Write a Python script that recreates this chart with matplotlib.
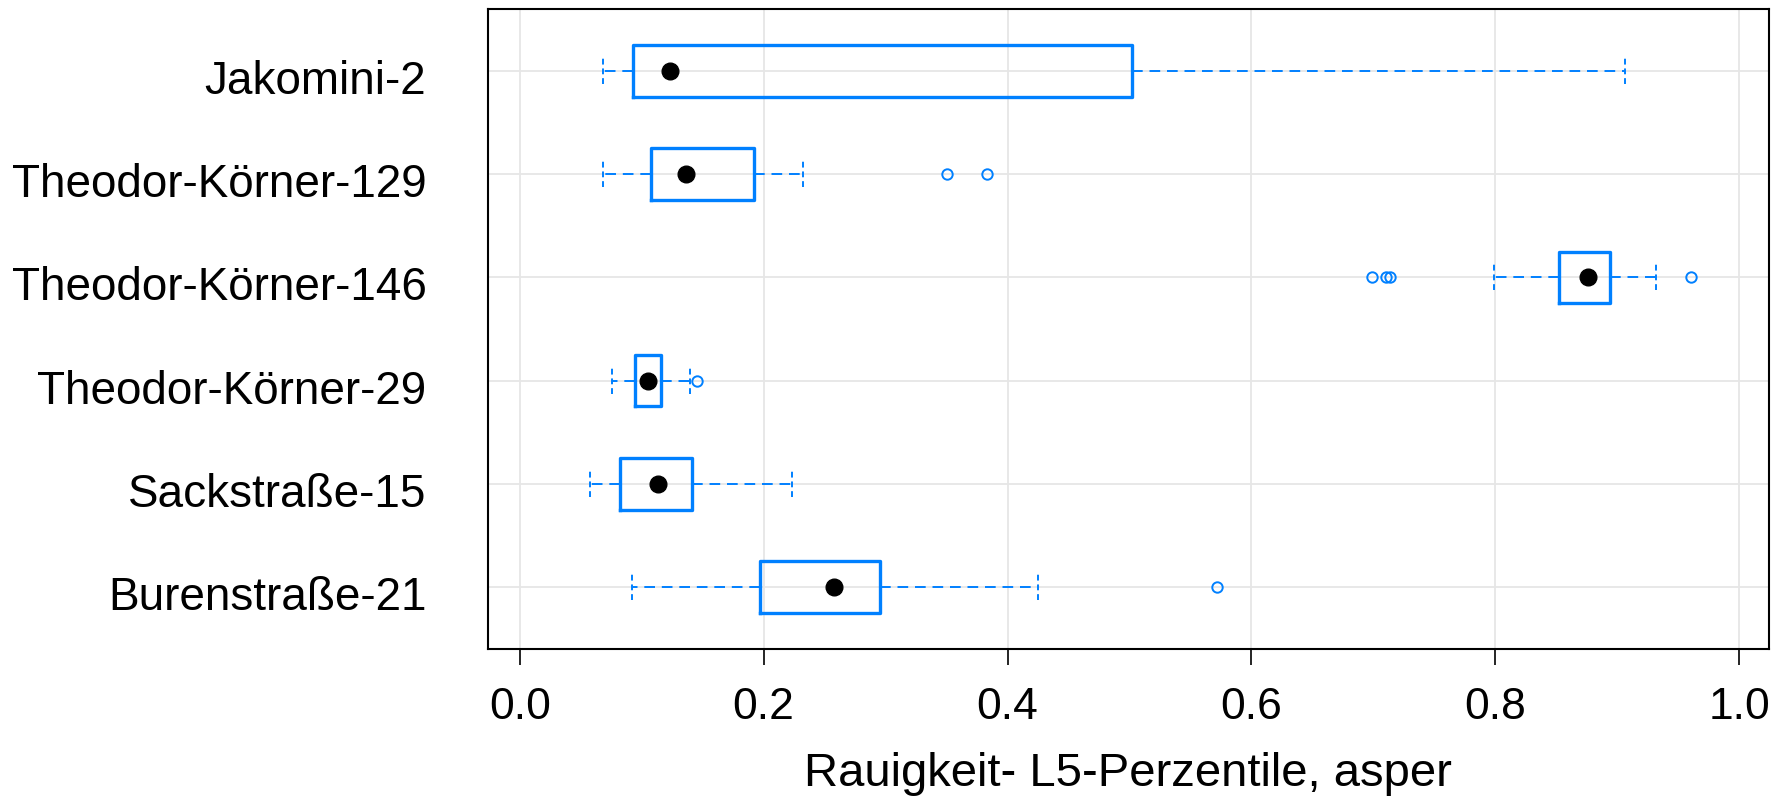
import matplotlib.pyplot as plt
import matplotlib.transforms as mtransforms
import numpy as np

plt.rcParams['font.family'] = ['Liberation Sans', 'DejaVu Sans']

# five-number summaries (bottom to top)
sites = ['Burenstraße-21', 'Sackstraße-15', 'Theodor-Körner-29',
         'Theodor-Körner-146', 'Theodor-Körner-129', 'Jakomini-2']
whis_lo = [0.092, 0.0575, 0.0757, 0.799, 0.0686, 0.0686]
q1 = [0.1968, 0.0821, 0.0947, 0.8526, 0.1079, 0.0931]
median = [0.2574, 0.1131, 0.1049, 0.876, 0.136, 0.1229]
q3 = [0.2955, 0.1412, 0.1155, 0.894, 0.1922, 0.502]
whis_hi = [0.4249, 0.2232, 0.1394, 0.9316, 0.2327, 0.9063]
outliers = [[0.5714], [], [0.1453], [0.699, 0.710, 0.714, 0.9602], [0.350, 0.383], []]

blue = '#0080ff'
grid_col = '#e6e6e6'

fig = plt.figure(figsize=(17.71, 8.01), dpi=100)
ax = fig.add_axes([487.5 / 1771, 152 / 801, 1281 / 1771, 640 / 801])

pos = np.arange(1, len(sites) + 1)
stats = []
for i in range(len(sites)):
    stats.append(dict(whislo=whis_lo[i], q1=q1[i], med=median[i], q3=q3[i],
                      whishi=whis_hi[i], fliers=outliers[i]))

# grid like lattice
for t in [0, 0.2, 0.4, 0.6, 0.8, 1.0]:
    ax.axvline(t, color=grid_col, lw=1.3, zorder=0)
for p in pos:
    ax.axhline(p, color=grid_col, lw=1.3, zorder=0)

ax.bxp(stats, positions=pos, orientation='horizontal', widths=0.5,
       capwidths=0.25,
       boxprops=dict(color=blue, lw=2.4),
       whiskerprops=dict(color=blue, lw=1.4, linestyle=(0, (5.5, 3.5))),
       capprops=dict(color=blue, lw=1.4, linestyle=(0, (3, 2))),
       medianprops=dict(linestyle='none'),
       flierprops=dict(marker='o', markerfacecolor='none', markeredgecolor=blue,
                       markersize=7.5, markeredgewidth=1.4),
       manage_ticks=False, zorder=2)

# median dots
ax.plot(median, pos, 'o', color='black', markersize=12, zorder=3, linestyle='none')

ax.set_xlim(-0.0264, 1.024)
ax.set_ylim(0.4, len(sites) + 0.6)
ax.set_xticks([0, 0.2, 0.4, 0.6, 0.8, 1.0])
ax.set_xticklabels(['0.0', '0.2', '0.4', '0.6', '0.8', '1.0'])
ax.set_yticks(pos)
ax.set_yticklabels(sites)
ax.tick_params(axis='x', length=11.5, width=1.2, pad=16, labelsize=32)
ax.tick_params(axis='y', length=0, pad=44, labelsize=33)

# site labels sit a little below the row line, as in the original
shift = mtransforms.ScaledTranslation(0, -0.23, fig.dpi_scale_trans)
for lab in ax.get_yticklabels():
    lab.set_va('baseline')
    lab.set_transform(lab.get_transform() + shift)

for s in ax.spines.values():
    s.set_linewidth(1.5)
ax.set_xlabel('Rauigkeit- L5-Perzentile, asper', fontsize=34, labelpad=17.5)

fig.savefig('out.png', dpi=100)
